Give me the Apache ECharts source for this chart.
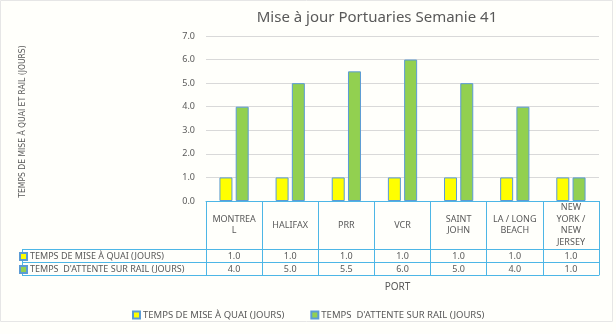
<!DOCTYPE html>
<html><head><meta charset="utf-8">
<script src="https://cdn.jsdelivr.net/npm/echarts@6/dist/echarts.min.js"></script>
<style>html,body{margin:0;padding:0;background:#FFFFFB}#c{width:616px;height:334px}</style>
</head><body><div id="c"></div>
<script>
const categories = ['MONTREA\nL', 'HALIFAX', 'PRR', 'VCR', 'SAINT\nJOHN', 'LA / LONG\nBEACH', 'NEW\nYORK /\nNEW\nJERSEY'];
const seriesNames = ['TEMPS DE MISE À QUAI (JOURS)', 'TEMPS  D\'ATTENTE SUR RAIL (JOURS)'];
const quaiValues = [1.0, 1.0, 1.0, 1.0, 1.0, 1.0, 1.0];
const railValues = [4.0, 5.0, 5.5, 6.0, 5.0, 4.0, 1.0];
const yTicks = [0, 1, 2, 3, 4, 5, 6, 7];

const FONT = 'Noto Sans';
const GREY = '#595959';
const LINE = '#4DB6E6';

const chart = echarts.init(document.getElementById('c'));
const baseCat = {type: 'category', gridIndex: 0, data: categories, position: 'bottom', boundaryGap: true};
chart.setOption({
  animation: false,
  backgroundColor: '#FFFFFB',
  title: {text: 'Mise à jour Portuaries Semanie 41', left: 372, top: 5, textAlign: 'center',
    textStyle: {fontFamily: FONT, fontSize: 15, fontWeight: 'normal', color: GREY}},
  grid: {left: 206, right: 17, top: 36, bottom: 133, containLabel: false},
  legend: [
    {data: seriesNames, left: 127, top: 305, itemWidth: 7, itemHeight: 7, itemGap: 26, icon: 'rect',
      textStyle: {fontFamily: FONT, fontSize: 9.5, color: GREY, padding: [0, 0, 0, -2]}},
    {data: seriesNames, orient: 'vertical', left: 19, top: 252, itemWidth: 7, itemHeight: 7, itemGap: 4, icon: 'rect',
      padding: [0, 0, 0, 0], selectedMode: false,
      textStyle: {fontFamily: FONT, fontSize: 9, color: GREY, padding: [0, 0, 0, -2]}}
  ],
  xAxis: [
    Object.assign({}, baseCat, {
      axisLine: {show: true, lineStyle: {color: LINE, width: 1}},
      axisTick: {show: true, interval: 0, length: 74, lineStyle: {color: LINE}},
      axisLabel: {interval: 0, margin: 24, verticalAlign: 'middle', fontFamily: FONT, fontSize: 9, lineHeight: 11.5, color: GREY}
    }),
    Object.assign({}, baseCat, {offset: 48,
      axisLine: {show: true, lineStyle: {color: LINE}}, axisTick: {show: false},
      axisLabel: {interval: 0, margin: 7, verticalAlign: 'middle', fontFamily: FONT, fontSize: 9, color: GREY,
        formatter: (v, i) => quaiValues[i].toFixed(1)}
    }),
    Object.assign({}, baseCat, {offset: 61,
      axisLine: {show: true, lineStyle: {color: LINE}}, axisTick: {show: false},
      axisLabel: {interval: 0, margin: 7, verticalAlign: 'middle', fontFamily: FONT, fontSize: 9, color: GREY,
        formatter: (v, i) => railValues[i].toFixed(1)}
    }),
    Object.assign({}, baseCat, {offset: 74,
      axisLine: {show: true, lineStyle: {color: LINE}}, axisTick: {show: false}, axisLabel: {show: false},
      name: 'PORT', nameLocation: 'middle', nameGap: 7,
      nameTextStyle: {fontFamily: FONT, fontSize: 10, color: GREY, padding: [0, 10, 0, 0]}
    })
  ],
  yAxis: {
    type: 'value', min: yTicks[0], max: yTicks[yTicks.length - 1], interval: 1,
    axisLine: {show: false}, axisTick: {show: false},
    splitLine: {lineStyle: {color: '#D9D9D9'}},
    axisLabel: {margin: 11, fontFamily: FONT, fontSize: 9, color: GREY, formatter: v => v.toFixed(1)},
    name: 'TEMPS DE MISE À QUAI ET RAIL (JOURS)', nameLocation: 'middle', nameGap: 179, nameRotate: 90,
    nameTextStyle: {fontFamily: "'DejaVu Sans Condensed', 'Roboto Condensed', Roboto, sans-serif", fontSize: 8.5, color: GREY, padding: [0, 6, 0, 0]}
  },
  graphic: [
    {type: 'line', shape: {x1: 22, y1: 249.5, x2: 206, y2: 249.5}, style: {stroke: LINE, lineWidth: 1}},
    {type: 'line', shape: {x1: 22, y1: 262.5, x2: 206, y2: 262.5}, style: {stroke: LINE, lineWidth: 1}},
    {type: 'line', shape: {x1: 22, y1: 275.5, x2: 206, y2: 275.5}, style: {stroke: LINE, lineWidth: 1}},
    {type: 'line', shape: {x1: 22.5, y1: 249, x2: 22.5, y2: 276}, style: {stroke: LINE, lineWidth: 1}},
    {type: 'rect', shape: {x: 0.5, y: 0.5, width: 612, height: 321}, style: {fill: 'none', stroke: '#E6E6E6', lineWidth: 1}, silent: true}
  ],
  series: [
    {name: seriesNames[0], type: 'bar', data: quaiValues, barWidth: 13, barGap: '25%',
      itemStyle: {color: '#FFFF00', borderColor: '#5B9BD5', borderWidth: 1}},
    {name: seriesNames[1], type: 'bar', data: railValues, barWidth: 13, barGap: '25%',
      itemStyle: {color: '#92D050', borderColor: '#5B9BD5', borderWidth: 1}}
  ]
});
</script></body></html>
